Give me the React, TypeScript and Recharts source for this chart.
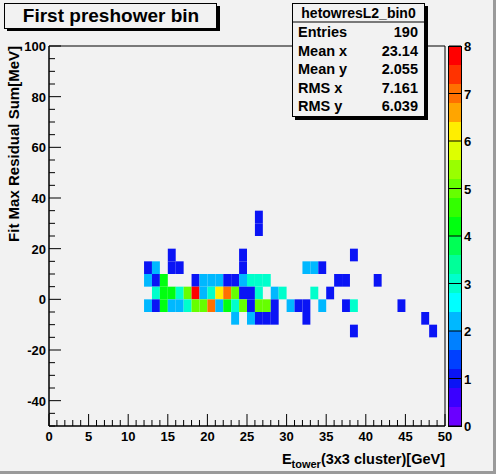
import { ScatterChart, Scatter, XAxis, YAxis, ReferenceArea, BarChart, Bar } from 'recharts';

const FONT = '"Liberation Sans", Arial, Helvetica, sans-serif';
const BG = '#f2f2f2';

// histogram binning: x bins of 1 GeV, y bins of 5 MeV
const X_BIN = 1;
const Y_BIN = 5;

// [x bin low edge, entries] for each y bin (low edge in the name)
const rowP30 = [[26, 1]];
const rowP25 = [[26, 1]];
const rowP15 = [[15, 1], [24, 1], [38, 1]];
const rowP10 = [[12, 1], [13, 2], [15, 1], [16, 1], [24, 1], [32, 2], [33, 2], [34, 1]];
const rowP5 = [[12, 2], [13, 1], [14, 4], [18, 1], [19, 2], [20, 2], [21, 2], [22, 1], [23, 1], [24, 2], [25, 3], [26, 3], [27, 3], [36, 1], [37, 1], [41, 1]];
const rowP0 = [[13, 3], [14, 4], [15, 4], [16, 3], [17, 5], [18, 8], [19, 2], [20, 3], [21, 6], [22, 7], [23, 5], [24, 1], [25, 1], [26, 3], [28, 2], [29, 3], [33, 3], [35, 1]];
const rowM5 = [[12, 2], [13, 1], [14, 4], [15, 2], [16, 2], [17, 3], [18, 5], [19, 5], [20, 7], [21, 2], [22, 4], [23, 3], [24, 5], [25, 1], [26, 5], [27, 5], [28, 1], [30, 2], [31, 1], [32, 1], [34, 2], [37, 1], [38, 3], [44, 1]];
const rowM10 = [[23, 2], [25, 2], [26, 1], [27, 1], [28, 1], [32, 1], [47, 1]];
const rowM15 = [[38, 1], [48, 1]];

const rows: [number, number[][]][] = [
  [30, rowP30], [25, rowP25], [15, rowP15], [10, rowP10], [5, rowP5],
  [0, rowP0], [-5, rowM5], [-10, rowM10], [-15, rowM15],
];

const xTicks = Array.from({ length: 51 }, (_, i) => i);
const yTicks = Array.from({ length: 31 }, (_, i) => -50 + i * 5);
const zTicks = [0, 1, 2, 3, 4, 5, 6, 7, 8];

const Z_MAX = 8;
const palette = [
  '#6a00ff', '#3a00ff', '#0a14f5', '#0040ff', '#0080ff',
  '#00b8ff', '#00ffff', '#00ffcc', '#00ff99', '#00ff55',
  '#00ff10', '#33ff00', '#66ff00', '#99ff00', '#ddff00',
  '#ffee00', '#ffa500', '#ff7000', '#ff3300', '#ff0000',
];

const stats = [
  ['Entries', '190'],
  ['Mean x', '23.14'],
  ['Mean y', '2.055'],
  ['RMS x', '7.161'],
  ['RMS y', '6.039'],
];

const colorFor = (v: number) => {
  const i = Math.min(palette.length - 1, Math.floor(v / (Z_MAX / palette.length)));
  return palette[i];
};

const cells = rows.flatMap(([y, list]) => list.map(([x, n]) => ({ x, y, n })));

const bandRow: Record<string, number | string> = { name: 'z' };
palette.forEach((_, i) => { bandRow['b' + i] = Z_MAX / palette.length; });

const XTick = (props: any) => {
  const { x, y, payload } = props;
  const major = payload.value % 5 === 0;
  return (
    <g>
      <line x1={x} x2={x} y1={y} y2={y - (major ? 12 : 6)} stroke="#000" />
      {major && (
        <text x={x} y={y + 15} textAnchor="middle" fontSize={13} fontWeight="bold" fontFamily={FONT} fill="#000">
          {payload.value}
        </text>
      )}
    </g>
  );
};

const YTick = (props: any) => {
  const { x, y, payload } = props;
  const major = payload.value % 20 === 0;
  return (
    <g>
      <line x1={x} x2={x + (major ? 12 : 6)} y1={y} y2={y} stroke="#000" />
      {major && (
        <text x={x - 3} y={y + 5} textAnchor="end" fontSize={13} fontWeight="bold" fontFamily={FONT} fill="#000">
          {payload.value}
        </text>
      )}
    </g>
  );
};

const ZTick = (props: any) => {
  const { x, y, payload } = props;
  return (
    <g>
      <line x1={x} x2={x - 12} y1={y} y2={y} stroke="#000" />
      <text x={x + 3} y={y + 5} textAnchor="start" fontSize={13} fontWeight="bold" fontFamily={FONT} fill="#000">
        {payload.value}
      </text>
    </g>
  );
};

export default function App() {
  return (
    <div style={{ position: 'fixed', left: 0, top: 0, width: 496, height: 474, background: BG, overflow: 'hidden', fontFamily: FONT }}>
      <div style={{ position: 'absolute', left: 0, top: 0 }}>
        <ScatterChart width={496} height={474} margin={{ top: 46, right: 51, bottom: 0, left: 0 }}>
          <XAxis type="number" dataKey="x" domain={[0, 50]} ticks={xTicks} interval={0} tickSize={0} tickMargin={0}
            tickLine={false} axisLine={{ stroke: '#000' }} height={48} tick={XTick} allowDataOverflow />
          <YAxis type="number" dataKey="y" domain={[-50, 100]} ticks={yTicks} interval={0} tickSize={0} tickMargin={0}
            tickLine={false} axisLine={{ stroke: '#000' }} width={49} tick={YTick} allowDataOverflow />
          {cells.map((c) => (
            <ReferenceArea key={`${c.x}_${c.y}`} x1={c.x} x2={c.x + X_BIN} y1={c.y} y2={c.y + Y_BIN}
              fill={colorFor(c.n)} fillOpacity={1} stroke="none" ifOverflow="visible" />
          ))}
          <ReferenceArea x1={0} x2={50} y1={-50} y2={100} fill="none" stroke="#000" ifOverflow="visible" />
          <Scatter data={cells} isAnimationActive={false} shape={() => null} />
        </ScatterChart>
      </div>

      <div style={{ position: 'absolute', left: 448, top: 0 }}>
        <BarChart width={48} height={474} data={[bandRow]} margin={{ top: 46, right: 0, bottom: 48, left: 0 }}
          barCategoryGap={0} barGap={0}>
          <XAxis dataKey="name" hide />
          <YAxis orientation="right" type="number" domain={[0, Z_MAX]} ticks={zTicks} interval={0} tickSize={0}
            tickMargin={0} tickLine={false} axisLine={false} width={35} tick={ZTick} />
          {palette.map((col, i) => (
            <Bar key={i} dataKey={'b' + i} stackId="z" fill={col} isAnimationActive={false} />
          ))}
        </BarChart>
      </div>

      <svg width={496} height={474} style={{ position: 'absolute', left: 0, top: 0, pointerEvents: 'none' }}>
        {/* colour bar outline */}
        <rect x={448.5} y={46.5} width={13} height={380} fill="none" stroke="#000" />

        {/* title box */}
        <rect x={7} y={6} width={213} height={25} fill="#000" />
        <rect x={4.5} y={3.5} width={212} height={25} fill={BG} stroke="#000" />
        <text x={111} y={22} textAnchor="middle" fontSize={19} fontWeight="bold" fontFamily={FONT}>First preshower bin</text>

        {/* stats box */}
        <rect x={295} y={6} width={133} height={114} fill="#000" />
        <rect x={292.5} y={3.5} width={132} height={113} fill={BG} stroke="#000" />
        <line x1={292.5} x2={424.5} y1={22} y2={22} stroke="#000" />
        <text x={358.5} y={18} textAnchor="middle" fontSize={14} fontWeight="bold" fontFamily={FONT}>hetowresL2_bin0</text>
        {stats.map(([k, v], i) => (
          <g key={k}>
            <text x={298} y={37 + i * 18.5} fontSize={14.5} fontWeight="bold" fontFamily={FONT}>{k}</text>
            <text x={418} y={37 + i * 18.5} textAnchor="end" fontSize={14.5} fontWeight="bold" fontFamily={FONT}>{v}</text>
          </g>
        ))}

        {/* axis titles */}
        <text x={445} y={464} textAnchor="end" fontSize={14.5} fontWeight="bold" fontFamily={FONT}>
          E<tspan fontSize={11} dy={4}>tower</tspan><tspan dy={-4}>(3x3 cluster)[GeV]</tspan>
        </text>
        <text transform="translate(19,46) rotate(-90)" textAnchor="end" fontSize={15} fontWeight="bold" fontFamily={FONT}>
          Fit Max Residual Sum[MeV]
        </text>
      </svg>

      <div style={{ position: 'absolute', right: 0, top: 0, width: 3, height: 474, background: '#9a9a9a' }} />
      <div style={{ position: 'absolute', left: 0, bottom: 0, width: 496, height: 3, background: '#9a9a9a' }} />
    </div>
  );
}
